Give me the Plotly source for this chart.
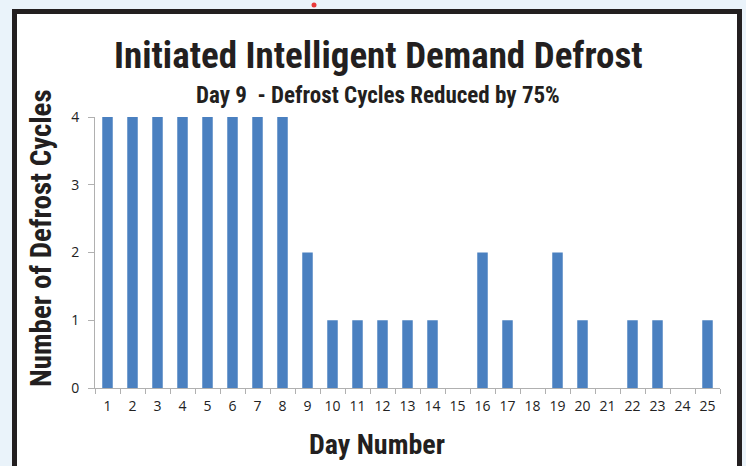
import plotly.graph_objects as go

days = [str(d) for d in range(1, 26)]
cycles = [4, 4, 4, 4, 4, 4, 4, 4, 2, 1, 1, 1, 1, 1, 0, 2, 1, 0, 2, 1, 0, 1, 1, 0, 1]
y_ticks = [0, 1, 2, 3, 4]

title = "Initiated Intelligent Demand Defrost"
subtitle = "Day 9  - Defrost Cycles Reduced by 75%"
x_title = "Day Number"
y_title = "Number of Defrost Cycles"

W, H = 746, 466
L, R, T, B = 95, 720, 117, 388  # plot area in pixels


def px(x):
    return (x - L) / (R - L)


def py(y):
    return (B - y) / (B - T)


cond = "Roboto Condensed, Liberation Sans Narrow, Arial Narrow, sans-serif"

fig = go.Figure(
    go.Bar(x=days, y=cycles, marker=dict(color="#4a80c0", line=dict(width=0)))
)

fig.update_layout(
    width=W,
    height=H,
    margin=dict(l=L, r=W - R, t=T, b=H - B),
    paper_bgcolor="#eaf3fa",
    plot_bgcolor="rgba(0,0,0,0)",
    bargap=0.58,
    showlegend=False,
    font=dict(family="Open Sans, sans-serif", size=14, color="#222222"),
)

fig.update_xaxes(
    type="category",
    tickson="boundaries",
    ticks="outside",
    ticklen=5,
    tickcolor="#b0b0b0",
    showline=True,
    linecolor="#b0b0b0",
    linewidth=1,
    showgrid=False,
    tickangle=0,
    ticklabelstandoff=5,
    tickfont=dict(size=14, color="#222222"),
)
fig.update_yaxes(
    range=[0, 4],
    tickvals=y_ticks,
    ticks="outside",
    ticklen=6,
    tickcolor="#b0b0b0",
    showline=True,
    linecolor="#b0b0b0",
    linewidth=1,
    showgrid=False,
    zeroline=False,
    ticklabelstandoff=6,
    tickfont=dict(size=14, color="#222222"),
)

# white panel with dark border
fig.add_shape(
    type="rect",
    xref="paper",
    yref="paper",
    x0=px(14.5),
    x1=px(739.5),
    y0=py(490),
    y1=py(11.5),
    line=dict(color="#231f20", width=5),
    fillcolor="white",
    layer="below",
)
# small red dot at top
fig.add_shape(
    type="circle",
    xref="paper",
    yref="paper",
    x0=px(311.5),
    x1=px(316.5),
    y0=py(7.5),
    y1=py(2.5),
    line=dict(width=0),
    fillcolor="#e83a3a",
    layer="above",
)

fig.add_annotation(
    text=title, xref="paper", yref="paper", x=px(378), y=py(55),
    showarrow=False, font=dict(family=cond, size=37, color="#231f20", weight="bold"),
    xanchor="center", yanchor="middle",
)
fig.add_annotation(
    text=subtitle, xref="paper", yref="paper", x=px(378), y=py(96),
    showarrow=False, font=dict(family=cond, size=23, color="#231f20", weight="bold"),
    xanchor="center", yanchor="middle",
)
fig.add_annotation(
    text=x_title, xref="paper", yref="paper", x=px(377), y=py(444),
    showarrow=False, font=dict(family=cond, size=28, color="#231f20", weight="bold"),
    xanchor="center", yanchor="middle",
)
fig.add_annotation(
    text=y_title, xref="paper", yref="paper", x=px(41), y=py(238),
    showarrow=False, textangle=-90,
    font=dict(family=cond, size=29, color="#231f20", weight="bold"),
    xanchor="center", yanchor="middle",
)

fig.write_html(
    "out.html",
    config={"displayModeBar": False},
    post_script="document.body.style.margin='0';document.body.style.overflow='hidden';",
)
